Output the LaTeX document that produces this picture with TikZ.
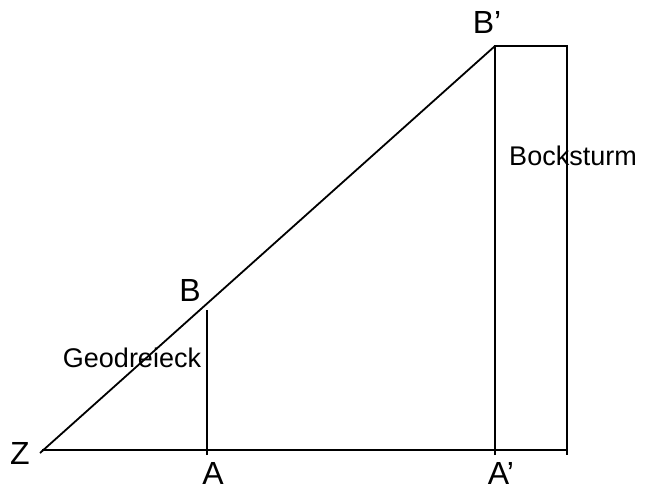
\documentclass[tikz,border=0pt]{standalone}
\usepackage{fontspec}
\setmainfont{Liberation Sans}
\usetikzlibrary{positioning}

\begin{document}
\begin{tikzpicture}[x=0.5pt, y=-0.5pt, line width=0.9pt,
    pt/.style={inner sep=0pt, font=\fontsize{16}{19}\selectfont},
    lbl/.style={inner sep=0pt, font=\fontsize{13.5}{16}\selectfont}]
  \useasboundingbox (0,0) rectangle (648,489);
  % points on the ground line
  \coordinate (z) at (40,453);
  \coordinate (gl) at (42,450);
  \coordinate (gr) at (567,450);
  \coordinate (a) at (207,455);
  \coordinate (aa) at (495,455);
  \coordinate (ra) at (567,455);
  % top points
  \coordinate (b) at (207,310);
  \coordinate (bb) at (495,46);
  \coordinate (rb) at (567,46);

  \draw (gl) -- (gr);
  \draw (z) -- (bb);
  \draw (a) -- (b);
  \draw (aa) -- (bb) -- (rb) -- (ra);

  \node[pt] (zl) at (20,453) {Z};
  \node[pt] (al) at (213,473) {A};
  \node[pt] (aal) at (501,473) {A’};
  \node[pt] (bl) at (190,290) {B};
  \node[pt] (bbl) at (487,22) {B’};
  \node[lbl] (geo) at (132,358) {Geodreieck};
  \node[lbl] (turm) at (573,156) {Bocksturm};
\end{tikzpicture}
\end{document}
